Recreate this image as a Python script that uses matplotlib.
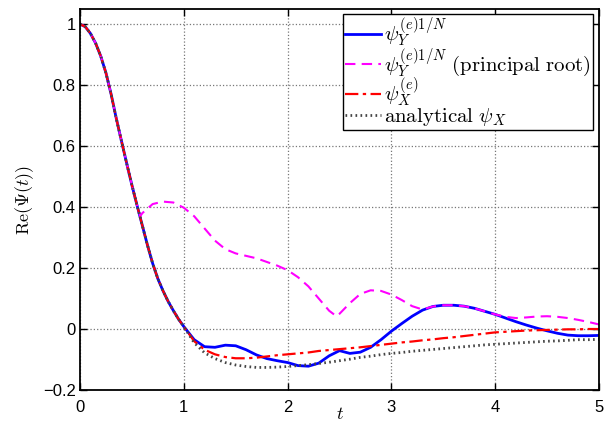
import numpy as np
import matplotlib.pyplot as plt

plt.rcParams['font.family'] = ['Liberation Sans', 'DejaVu Sans']
plt.rcParams['mathtext.fontset'] = 'cm'

# common early part of all curves, t = 0 .. 0.95 (step 0.05)
t_head = [0.0, 0.05, 0.1, 0.15, 0.2, 0.25, 0.3, 0.35, 0.4, 0.45,
          0.5, 0.55, 0.6, 0.65, 0.7, 0.75, 0.8, 0.85, 0.9, 0.95]
head = [1.0, 0.992, 0.97, 0.938, 0.895, 0.84, 0.77, 0.69, 0.616, 0.543,
        0.472, 0.405, 0.34, 0.275, 0.215, 0.165, 0.125, 0.09, 0.06, 0.032]

# later part, t = 1.0 .. 5.0 (step 0.1)
t_tail = [round(1.0 + 0.1 * i, 1) for i in range(41)]

# psi_Y^(e)1/N
blue_tail = [0.008, -0.035, -0.058, -0.06, -0.053, -0.055, -0.068, -0.085, -0.097, -0.104,
             -0.11, -0.12, -0.122, -0.112, -0.088, -0.071, -0.08, -0.076, -0.06, -0.035,
             -0.007, 0.018, 0.042, 0.062, 0.074, 0.078, 0.078, 0.075, 0.068, 0.058,
             0.048, 0.036, 0.024, 0.013, 0.003, -0.006, -0.014, -0.02, -0.022, -0.022, -0.021]

# psi_X^(e)
red_tail = [0.008, -0.04, -0.068, -0.083, -0.092, -0.096, -0.096, -0.094, -0.09, -0.086,
            -0.083, -0.08, -0.077, -0.072, -0.069, -0.066, -0.063, -0.06, -0.056, -0.052,
            -0.048, -0.044, -0.041, -0.037, -0.034, -0.03, -0.027, -0.023, -0.019, -0.015,
            -0.011, -0.009, -0.007, -0.005, -0.004, -0.003, -0.002, -0.001, -0.001, 0.0, 0.0]

# analytical psi_X
gray_tail = [0.008, -0.045, -0.078, -0.097, -0.11, -0.118, -0.123, -0.126, -0.126, -0.125,
             -0.123, -0.12, -0.117, -0.113, -0.109, -0.104, -0.099, -0.093, -0.089, -0.084,
             -0.08, -0.077, -0.073, -0.07, -0.067, -0.064, -0.061, -0.058, -0.055, -0.052,
             -0.05, -0.048, -0.046, -0.044, -0.042, -0.04, -0.039, -0.037, -0.035, -0.035, -0.034]

# principal root branch (splits off the common curve near t = 0.57)
t_pr = [0.58, 0.6, 0.7, 0.8, 0.9, 1.0, 1.1, 1.2, 1.3, 1.4,
        1.5, 1.6, 1.7, 1.8, 1.9, 2.0, 2.1, 2.2, 2.3, 2.4, 2.47, 2.5, 2.6, 2.7, 2.8, 2.9,
        3.0, 3.1, 3.2, 3.3, 3.4, 3.5, 3.6, 3.7, 3.8, 3.9, 4.0, 4.1, 4.2, 4.3, 4.4, 4.5,
        4.6, 4.7, 4.8, 4.9, 5.0]
pr_tail = [0.37, 0.38, 0.41, 0.418, 0.415, 0.398,
           0.37, 0.33, 0.29, 0.262, 0.248, 0.24, 0.232, 0.22, 0.208, 0.193, 0.17, 0.14, 0.1,
           0.06, 0.042, 0.05, 0.085, 0.115, 0.127, 0.125, 0.113, 0.095, 0.075, 0.064, 0.074,
           0.078, 0.078, 0.075, 0.068, 0.058, 0.048, 0.04, 0.036, 0.038, 0.041, 0.042, 0.04,
           0.036, 0.03, 0.023, 0.015]

t = t_head + t_tail
blue = head + blue_tail
red = head + red_tail
gray = head + gray_tail
t_p = t_head[:12] + t_pr
pr = head[:12] + pr_tail

fig = plt.figure(figsize=(6.14, 4.25), dpi=100)
ax = fig.add_axes([0.1303, 0.0824, 0.8453, 0.8965])

ax.plot(t, blue, color='#0000ff', lw=2, label=r'$\psi_Y^{(e)1/N}$')
ax.plot(t_p, pr, color='#ff00ff', lw=1.5, ls=(0, (5, 3)),
        label=r'$\psi_Y^{(e)1/N}\ \mathrm{(principal\ root)}$')
ax.plot(t, red, color='#ff0000', lw=1.6, ls=(0, (6, 2, 1.5, 2)), label=r'$\psi_X^{(e)}$')
ax.plot(t, gray, color='#444444', lw=2, ls=(0, (0.6, 1.2)), label=r'$\mathrm{analytical}\ \psi_X$')

ax.set_xlim(0, 5)
ax.set_ylim(-0.2, 1.05)
ax.set_xticks([0, 1, 2, 3, 4, 5])
ax.set_yticks([-0.2, 0, 0.2, 0.4, 0.6, 0.8, 1])
ax.set_yticklabels(['\u22120.2', '0', '0.2', '0.4', '0.6', '0.8', '1'])
ax.tick_params(direction='in', top=True, right=True, length=5, width=1, labelsize=12)
ax.tick_params(axis='x', pad=7)
ax.tick_params(axis='y', pad=3)
ax.grid(True, ls=':', color='#777777', lw=0.9)
for s in ax.spines.values():
    s.set_linewidth(1.3)

ax.set_xlabel(r'$t$', fontsize=13, labelpad=-6)
ax.set_ylabel(r'$\mathrm{Re}(\Psi(t))$', fontsize=13, labelpad=5)

leg = ax.legend(loc='upper right', bbox_to_anchor=(0.988, 0.987), borderaxespad=0,
                fontsize=15, handlelength=1.7, handletextpad=0.15, labelspacing=-0.15,
                borderpad=0.1, fancybox=False, framealpha=1, edgecolor='black')
leg.get_frame().set_linewidth(1.0)

fig.savefig('out.png', dpi=100)
